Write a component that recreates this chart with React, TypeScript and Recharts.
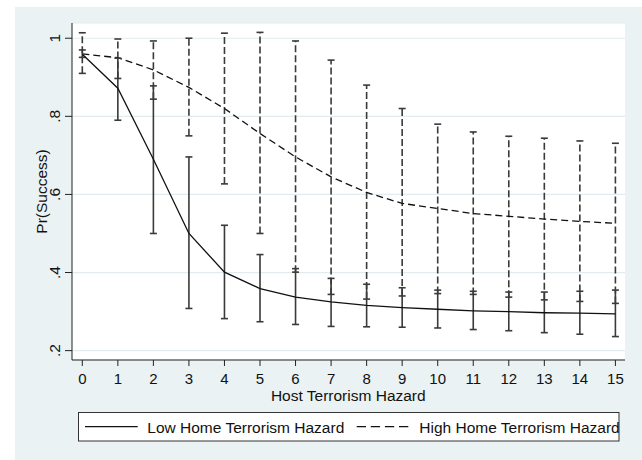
import React from 'react';
import { ComposedChart, Line, XAxis, YAxis, CartesianGrid, ErrorBar } from 'recharts';

const hazard = [0, 1, 2, 3, 4, 5, 6, 7, 8, 9, 10, 11, 12, 13, 14, 15];

const lowMean = [0.959, 0.872, 0.69, 0.5, 0.401, 0.359, 0.337, 0.325, 0.316, 0.31, 0.306, 0.302, 0.3, 0.297, 0.296, 0.294];
const lowLower = [0.951, 0.79, 0.5, 0.308, 0.282, 0.274, 0.267, 0.262, 0.261, 0.26, 0.258, 0.254, 0.251, 0.246, 0.242, 0.236];
const lowUpper = [0.97, 0.949, 0.878, 0.696, 0.521, 0.446, 0.41, 0.385, 0.37, 0.361, 0.355, 0.352, 0.35, 0.35, 0.352, 0.355];

const highMean = [0.96, 0.95, 0.919, 0.874, 0.82, 0.756, 0.696, 0.645, 0.605, 0.577, 0.564, 0.551, 0.544, 0.537, 0.531, 0.526];
const highLower = [0.91, 0.897, 0.844, 0.75, 0.627, 0.5, 0.401, 0.344, 0.332, 0.34, 0.346, 0.344, 0.337, 0.33, 0.326, 0.321];
const highUpper = [1.014, 0.998, 0.993, 1.0, 1.013, 1.015, 0.993, 0.944, 0.88, 0.82, 0.78, 0.76, 0.749, 0.744, 0.737, 0.731];

const yTicks = [0.2, 0.4, 0.6, 0.8, 1];
const yTickLabels = ['.2', '.4', '.6', '.8', '1'];

const xLabel = 'Host Terrorism Hazard';
const yLabel = 'Pr(Success)';
const lowName = 'Low Home Terrorism Hazard';
const highName = 'High Home Terrorism Hazard';

const data = hazard.map((h, i) => ({
  hazard: h,
  low: lowMean[i],
  lowErr: [lowMean[i] - lowLower[i], lowUpper[i] - lowMean[i]],
  high: highMean[i],
  highErr: [highMean[i] - highLower[i], highUpper[i] - highMean[i]],
}));

const FONT = '"Liberation Sans", Arial, Helvetica, sans-serif';
const BG = '#eaf2f3';
const FS = 15.5;
const TFS = 15;

const YTick = (props: any) => {
  const { x, y, payload } = props;
  const idx = yTicks.findIndex((t) => Math.abs(t - payload.value) < 1e-9);
  const label = idx >= 0 ? yTickLabels[idx] : String(payload.value);
  return (
    <g transform={`translate(${x - 5.5}, ${y}) rotate(-90)`}>
      <text x={0} y={0} textAnchor="middle" fontSize={FS} fill="#111" fontFamily={FONT}>
        {label}
      </text>
    </g>
  );
};

export default function App() {
  return (
    <div style={{ position: 'absolute', left: 0, top: 0, width: 642, height: 460 }}>
      <div style={{ position: 'absolute', left: 15, top: 7, width: 627, height: 453, background: BG }} />
      <div style={{ position: 'absolute', left: 0, top: 0 }}>
        <ComposedChart
          width={642}
          height={460}
          data={data}
          margin={{ top: 23, right: 17, left: 0, bottom: 60 }}
        >
          <CartesianGrid vertical={false} fill="#ffffff" fillOpacity={1} stroke="#e2ebee" strokeWidth={1.2} />
          <XAxis
            dataKey="hazard"
            type="number"
            domain={[-0.29, 15.27]}
            allowDataOverflow
            ticks={hazard}
            interval={0}
            height={40}
            tickSize={6}
            tickMargin={7}
            stroke="#222"
            tick={{ fontSize: TFS, fill: '#111', fontFamily: FONT }}
          />
          <YAxis
            type="number"
            domain={[0.176, 1.039]}
            allowDataOverflow
            ticks={yTicks}
            interval={0}
            width={72}
            tickSize={7}
            tickMargin={0}
            stroke="#222"
            tick={<YTick />}
          />
          <Line
            dataKey="high"
            type="linear"
            stroke="#111"
            strokeWidth={1.3}
            strokeDasharray="7 4"
            dot={false}
            activeDot={false}
            isAnimationActive={false}
          >
            <ErrorBar
              dataKey="highErr"
              direction="y"
              width={3.5}
              stroke="#3a3a3a"
              strokeWidth={1.6}
              strokeDasharray="7 3"
              isAnimationActive={false}
            />
          </Line>
          <Line
            dataKey="low"
            type="linear"
            stroke="#111"
            strokeWidth={1.3}
            dot={false}
            activeDot={false}
            isAnimationActive={false}
          >
            <ErrorBar
              dataKey="lowErr"
              direction="y"
              width={3.5}
              stroke="#3a3a3a"
              strokeWidth={1.6}
              isAnimationActive={false}
            />
          </Line>
        </ComposedChart>
      </div>
      <svg
        width={642}
        height={460}
        style={{ position: 'absolute', left: 0, top: 0, pointerEvents: 'none' }}
        fontFamily={FONT}
      >
        <text x={348.3} y={401} textAnchor="middle" fontSize={FS} fill="#111">
          {xLabel}
        </text>
        <g transform="translate(46.5, 191.5) rotate(-90)">
          <text x={0} y={0} textAnchor="middle" fontSize={FS} fill="#111">
            {yLabel}
          </text>
        </g>
        <rect x={78.5} y={412.5} width={540.5} height={28.5} fill="#ffffff" stroke="#333" strokeWidth={1} />
        <line x1={85} x2={137.7} y1={426.7} y2={426.7} stroke="#111" strokeWidth={1.3} />
        <text x={147.3} y={432.5} fontSize={FS} fill="#111">
          {lowName}
        </text>
        <line x1={356.7} x2={408.3} y1={426.7} y2={426.7} stroke="#111" strokeWidth={1.3} strokeDasharray="9.3 4.8" />
        <text x={419.3} y={432.5} fontSize={FS} fill="#111">
          {highName}
        </text>
      </svg>
    </div>
  );
}
